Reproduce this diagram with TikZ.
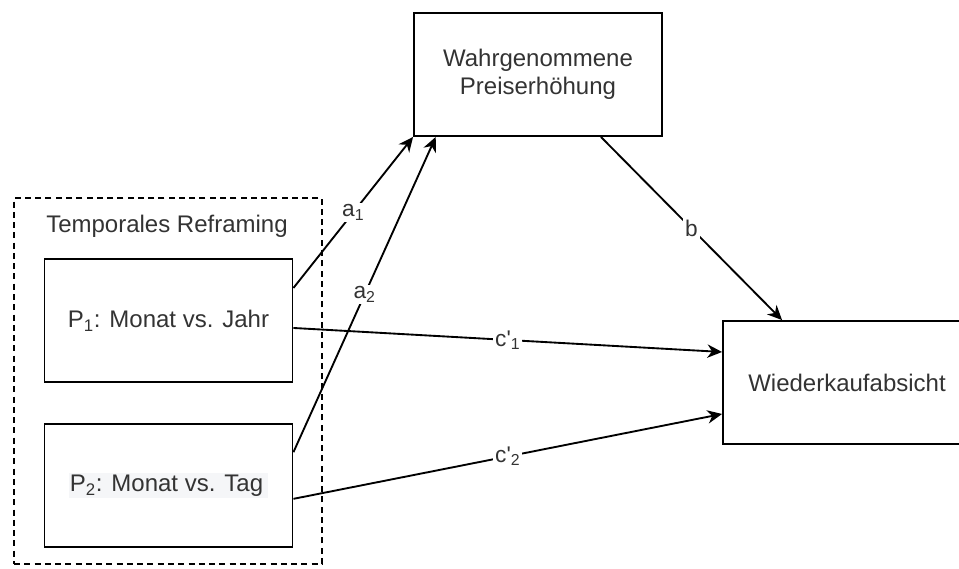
\documentclass[tikz,border=0pt]{standalone}
\usepackage{fontspec}
\setmainfont{Liberation Sans}
\usetikzlibrary{arrows.meta, positioning}
\definecolor{mdText}{HTML}{333333}
\definecolor{mdHigh}{HTML}{F5F6F8}
\tikzset{
  varbox/.style   = {draw, line width=1.4pt, minimum width=186pt, minimum height=92.25pt,
                     align=center, text=mdText, font=\fontsize{18}{21}\selectfont},
  groupbox/.style = {draw, line width=1.2pt, dash pattern=on 4.5pt off 3.2pt,
                     minimum width=231pt, minimum height=274.5pt},
  effect/.style   = {-{Stealth[length=11pt, width=10pt, inset=3.5pt]}, line width=1.4pt},
  elbl/.style     = {fill=white, inner sep=1.5pt, text=mdText,
                     font=\fontsize{17}{19}\selectfont},
  glbl/.style     = {text=mdText, font=\fontsize{18}{21}\selectfont},
}

\begin{document}
\begin{tikzpicture}[x=0.75pt,y=-0.75pt]
  \useasboundingbox (0,0) rectangle (959,568);
  \clip (0,0) rectangle (959,568);
  % gruppe
  \node[groupbox] (reframing) at (168,381) {};
  \node[glbl] (reftitle) at (167,226) {Temporales Reframing};
  % variablen
  \node[varbox] (preis) at (538,74.5) {Wahrgenommene\\Preiserhöhung};
  \node[varbox] (p1) at (168.5,320.5) {P\textsubscript{1}: Monat vs. Jahr};
  \node[varbox] (p2) at (168.5,485.5)
       {\setlength{\fboxsep}{1pt}\colorbox{mdHigh}{P\textsubscript{2}: Monat vs. Tag\,}};
  \node[varbox] (kauf) at (847,382.5) {Wiederkaufabsicht};
  % pfade
  \draw[effect] ([yshift=24.4pt]p1.east) -- (preis.south west)
        node[elbl, midway] {a\textsubscript{1}};
  \draw[effect] ([yshift=25pt]p2.east) -- ([xshift=17pt]preis.south west)
        node[elbl, midway] {a\textsubscript{2}};
  \draw[effect] ([xshift=-46.5pt]preis.south east) -- ([xshift=45pt]kauf.north west)
        node[elbl, midway] {b};
  \draw[effect] ([yshift=-5.6pt]p1.east) -- ([yshift=22.9pt]kauf.west)
        node[elbl, midway] {c\textquotesingle\textsubscript{1}};
  \draw[effect] ([yshift=-10pt]p2.east) -- ([yshift=-23.6pt]kauf.west)
        node[elbl, midway] {c\textquotesingle\textsubscript{2}};
\end{tikzpicture}
\end{document}
